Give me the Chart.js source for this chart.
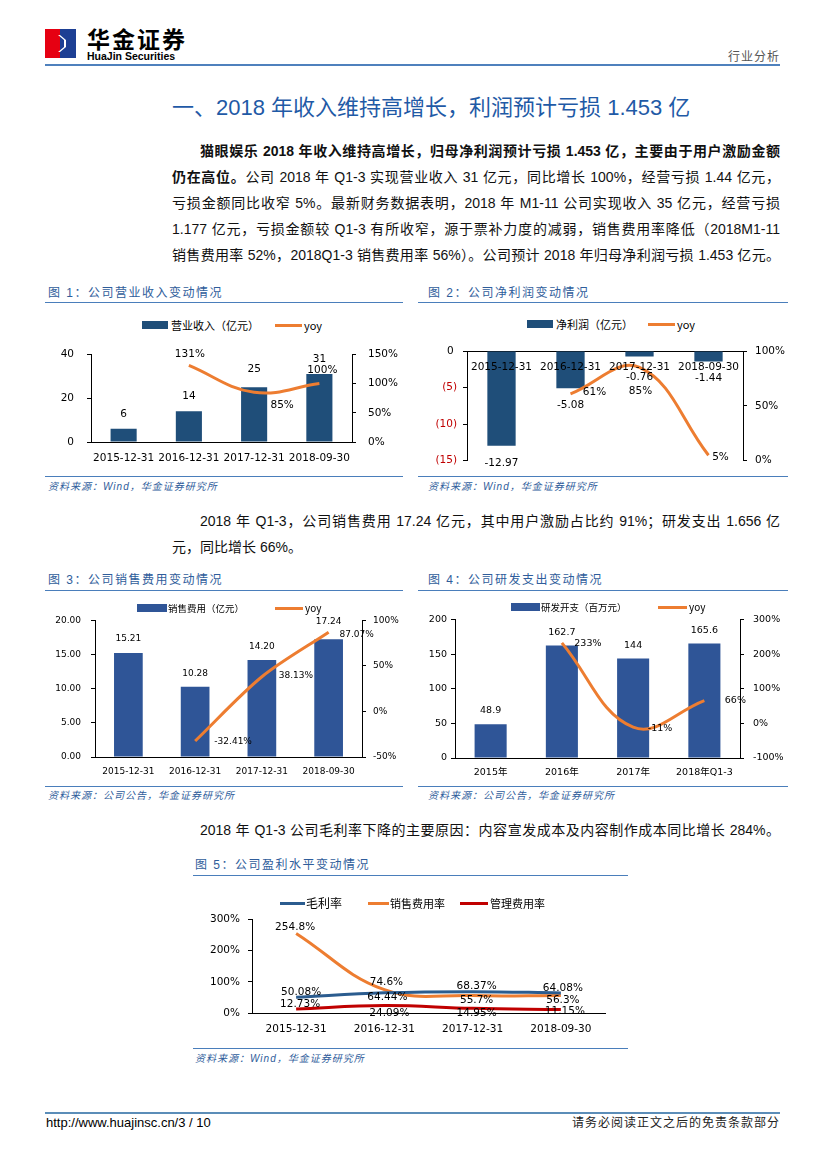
<!DOCTYPE html>
<html lang="zh-CN">
<head>
<meta charset="UTF-8">
<title>行业分析</title>
<script src="https://cdn.jsdelivr.net/npm/chart.js"></script>
<style>
  body { margin: 0; background: #fff; }
  #page { position: relative; width: 827px; height: 1169px; overflow: hidden; background: #fff;
          font-family: "Liberation Sans", "Noto Sans CJK SC", sans-serif; color: #000; }
  .rule { position: absolute; height: 1px; background: #4a7ebb; }
  .cap { position: absolute; font-size: 12px; line-height: 14px; color: #2f5d9b; letter-spacing: 1.5px; white-space: nowrap; }
  .src { position: absolute; font-size: 10px; line-height: 12px; color: #2f5d9b; font-style: italic; letter-spacing: 1px; white-space: nowrap; }
  .ln { position: absolute; font-size: 14px; line-height: 20px; text-align: justify; text-align-last: justify; color: #111; }
  .lg { position: absolute; font-size: 11px; line-height: 14px; white-space: nowrap; font-family: "Noto Sans CJK SC", "DejaVu Sans", sans-serif; }
  .sw { position: absolute; }
  canvas { position: absolute; }
</style>
</head>
<body>
<div id="page">
  <!-- header -->
  <svg style="position:absolute;left:45px;top:29px" width="31" height="29">
    <rect x="0" y="0" width="15" height="29" fill="#e60012"/>
    <rect x="15" y="0" width="16" height="29" fill="#1d3f94"/>
    <polygon points="15,6 21,11 21,18 15,23 13,23 19,18 19,11 13,6" fill="#fff"/>
  </svg>
  <div style="position:absolute;left:87px;top:26px;font-size:23px;line-height:24px;font-weight:bold;letter-spacing:2px;font-family:'Noto Sans CJK SC'">华金证券</div>
  <div style="position:absolute;left:87px;top:51px;font-size:10.5px;line-height:11px;font-weight:bold">HuaJin Securities</div>
  <div style="position:absolute;right:47px;top:49px;font-size:12px;line-height:16px;color:#555;letter-spacing:1px">行业分析</div>
  <div class="rule" style="left:45px;top:64px;width:735px;height:2px;background:#4f81bd"></div>

  <div style="position:absolute;left:172px;top:94px;font-size:22px;line-height:28px;color:#1f5aa6;white-space:nowrap">一、2018 年收入维持高增长，利润预计亏损 1.453 亿</div>

  <div class="ln" style="left:200px;top:141px;width:580px"><b>猫眼娱乐 2018 年收入维持高增长，归母净利润预计亏损 1.453 亿，主要由于用户激励金额</b></div>
  <div class="ln" style="left:172px;top:167px;width:608px"><b>仍在高位。</b>公司 2018 年 Q1-3 实现营业收入 31 亿元，同比增长 100%，经营亏损 1.44 亿元，</div>
  <div class="ln" style="left:172px;top:193px;width:608px">亏损金额同比收窄 5%。最新财务数据表明，2018 年 M1-11 公司实现收入 35 亿元，经营亏损</div>
  <div class="ln" style="left:172px;top:219px;width:608px">1.177 亿元，亏损金额较 Q1-3 有所收窄，源于票补力度的减弱，销售费用率降低（2018M1-11</div>
  <div class="ln" style="left:172px;top:245px;width:608px">销售费用率 52%，2018Q1-3 销售费用率 56%）。公司预计 2018 年归母净利润亏损 1.453 亿元。</div>

  <!-- fig 1 / fig 2 -->
  <div class="cap" style="left:48px;top:286px">图 1：公司营业收入变动情况</div>
  <div class="rule" style="left:45px;top:302px;width:358px"></div>
  <div class="rule" style="left:45px;top:476px;width:358px"></div>
  <div class="src" style="left:48px;top:481px">资料来源：Wind，华金证券研究所</div>

  <div class="cap" style="left:428px;top:286px">图 2：公司净利润变动情况</div>
  <div class="rule" style="left:418px;top:302px;width:370px"></div>
  <div class="rule" style="left:418px;top:476px;width:370px"></div>
  <div class="src" style="left:428px;top:481px">资料来源：Wind，华金证券研究所</div>

  <canvas id="c1" width="360" height="135" style="left:45px;top:335px"></canvas>
  <canvas id="c2" width="370" height="140" style="left:420px;top:335px"></canvas>

  <div class="ln" style="left:200px;top:511px;width:580px">2018 年 Q1-3，公司销售费用 17.24 亿元，其中用户激励占比约 91%；研发支出 1.656 亿</div>
  <div class="ln" style="left:172px;top:537px;text-align:left;text-align-last:left">元，同比增长 66%。</div>

  <!-- fig 3 / fig 4 -->
  <div class="cap" style="left:48px;top:573px">图 3：公司销售费用变动情况</div>
  <div class="rule" style="left:45px;top:590px;width:358px"></div>
  <div class="rule" style="left:45px;top:786px;width:358px"></div>
  <div class="src" style="left:48px;top:790px">资料来源：公司公告，华金证券研究所</div>

  <div class="cap" style="left:428px;top:573px">图 4：公司研发支出变动情况</div>
  <div class="rule" style="left:418px;top:590px;width:370px"></div>
  <div class="rule" style="left:418px;top:786px;width:370px"></div>
  <div class="src" style="left:428px;top:790px">资料来源：公司公告，华金证券研究所</div>

  <canvas id="c3" width="360" height="180" style="left:45px;top:605px"></canvas>
  <canvas id="c4" width="370" height="180" style="left:420px;top:605px"></canvas>

  <div class="ln" style="left:200px;top:820px;width:580px">2018 年 Q1-3 公司毛利率下降的主要原因：内容宣发成本及内容制作成本同比增长 284%。</div>

  <!-- fig 5 -->
  <div class="cap" style="left:195px;top:858px">图 5：公司盈利水平变动情况</div>
  <div class="rule" style="left:193px;top:875px;width:435px"></div>
  <div class="rule" style="left:193px;top:1048px;width:435px"></div>
  <div class="src" style="left:195px;top:1053px">资料来源：Wind，华金证券研究所</div>

  <canvas id="c5" width="430" height="140" style="left:195px;top:905px"></canvas>

  <!-- footer -->
  <div class="rule" style="left:45px;top:1112px;width:735px;height:2px;background:#5b8db8"></div>
  <div style="position:absolute;left:46px;top:1115px;font-size:13px;line-height:16px">http://www.huajinsc.cn/3 / 10</div>
  <div style="position:absolute;right:47px;top:1116px;font-size:12px;line-height:15px;letter-spacing:1px;color:#222">请务必阅读正文之后的免责条款部分</div>
</div>

<script>
// 图1 营业收入
var cats1 = ['2015-12-31', '2016-12-31', '2017-12-31', '2018-09-30'];
var names1 = ['营业收入（亿元）', 'yoy'];
var revenue = [6, 14, 25, 31];
var revenueYoy = [null, 131, 85, 100];

// 图2 净利润
var names2 = ['净利润（亿元）', 'yoy'];
var netProfit = [-12.97, -5.08, -0.76, -1.44];
var netProfitYoy = [null, 61, 85, 5];

// 图3 销售费用
var names3 = ['销售费用（亿元）', 'yoy'];
var salesExp = [15.21, 10.28, 14.20, 17.24];
var salesExpYoy = [null, -32.41, 38.13, 87.07];

// 图4 研发开支
var cats4 = ['2015年', '2016年', '2017年', '2018年Q1-3'];
var names4 = ['研发开支（百万元）', 'yoy'];
var rd = [48.9, 162.7, 144, 165.6];
var rdYoy = [null, 233, -11, 66];

// 图5 盈利水平
var names5 = ['毛利率', '销售费用率', '管理费用率'];
var grossMargin = [50.08, 64.44, 68.37, 64.08];
var salesRatio = [254.8, 74.6, 55.7, 56.3];
var adminRatio = [12.73, 24.09, 14.95, 11.15];

var FONT = '"DejaVu Sans", "Noto Sans CJK SC", sans-serif';
var NAVY = '#1f4e79';
var BLUE = '#2f5597';
var ORANGE = '#ed7d31';

Chart.defaults.font.family = FONT;
Chart.defaults.color = '#000';
Chart.defaults.animation = false;

// value labels next to bars / points
var valueLabels = {
  id: 'valueLabels',
  afterDatasetsDraw: function (chart) {
    var ctx = chart.ctx;
    chart.data.datasets.forEach(function (ds, di) {
      var lb = ds.lbl;
      if (!lb) return;
      var meta = chart.getDatasetMeta(di);
      ctx.save();
      ctx.font = lb.fs + 'px ' + FONT;
      ctx.fillStyle = '#000';
      ctx.textAlign = 'center';
      ctx.textBaseline = 'middle';
      meta.data.forEach(function (el, i) {
        var v = ds.data[i];
        if (v === null) return;
        ctx.fillText(lb.fmt(v), el.x + lb.dx[i], el.y + lb.dy[i]);
      });
      ctx.restore();
    });
  }
};

// category names under the zero line (图2)
var zeroCats = {
  id: 'zeroCats',
  afterDatasetsDraw: function (chart, args, opts) {
    if (!opts.show) return;
    var ctx = chart.ctx;
    var xs = chart.scales.x, ys = chart.scales.y;
    ctx.save();
    ctx.font = opts.fs + 'px ' + FONT;
    ctx.fillStyle = '#000';
    ctx.textAlign = 'center';
    ctx.textBaseline = 'middle';
    chart.data.labels.forEach(function (t, i) {
      ctx.fillText(t, xs.getPixelForValue(i), ys.getPixelForValue(0) + opts.dy);
    });
    ctx.restore();
  }
};

function yAxis(o) {
  return {
    position: o.pos, min: o.min, max: o.max,
    afterFit: function (s) { s.width = o.w; },
    grid: { display: true, drawOnChartArea: false, drawTicks: true, tickLength: 4, color: '#000' },
    border: { display: true, color: '#000' },
    ticks: { stepSize: o.step, padding: o.pad, font: { size: o.fs }, color: o.color || '#000', callback: o.fmt }
  };
}

function xAxis(o) {
  return {
    position: o.pos || 'bottom', offset: true,
    afterFit: function (s) { s.height = o.h; },
    grid: { display: false, drawTicks: false },
    border: { display: true, color: '#000' },
    ticks: { display: o.ticks !== false, padding: o.pad, font: { size: o.fs }, color: '#000', maxRotation: 0, autoSkip: false }
  };
}

function opts(padding, scales, extra) {
  return {
    responsive: false,
    animation: false,
    layout: { padding: padding },
    scales: scales,
    plugins: Object.assign({ legend: { display: false }, tooltip: { enabled: false } }, extra || {})
  };
}

function pct(v) { return v + '%'; }

function addLegend(items) {
  var page = document.getElementById('page');
  items.forEach(function (it) {
    var sw = document.createElement('div');
    sw.className = 'sw';
    var h = it.kind === 'bar' ? 8 : 3;
    sw.style.cssText = 'left:' + it.x + 'px;top:' + (it.y - h / 2) + 'px;width:' + it.w + 'px;height:' + h + 'px;background:' + it.color;
    page.appendChild(sw);
    var tx = document.createElement('div');
    tx.className = 'lg';
    tx.textContent = it.text;
    tx.style.left = it.tx + 'px';
    tx.style.top = (it.y - 7) + 'px';
    tx.style.fontSize = it.fs + 'px';
    page.appendChild(tx);
  });
}

// 图1
new Chart(document.getElementById('c1'), {
  type: 'bar',
  data: {
    labels: cats1,
    datasets: [
      { type: 'line', label: names1[1], data: revenueYoy, yAxisID: 'y1', borderColor: ORANGE, borderWidth: 3,
        pointRadius: 0, tension: 0.4, order: 0,
        lbl: { fs: 10.5, fmt: pct, dx: [0, 1, 28, 3], dy: [0, -11, 13, -13] } },
      { type: 'bar', label: names1[0], data: revenue, yAxisID: 'y', backgroundColor: NAVY,
        categoryPercentage: 1, barPercentage: 0.4, order: 1,
        lbl: { fs: 10.5, fmt: function (v) { return String(v); }, dx: [0, 0, 0, 0], dy: [-15, -15, -18, -15] } }
    ]
  },
  options: opts({ top: 17, left: 0, right: 0, bottom: 0 }, {
    x: xAxis({ h: 28, pad: 9.5, fs: 10.5 }),
    y: yAxis({ pos: 'left', min: 0, max: 40, step: 20, w: 46, pad: 13, fs: 10.5 }),
    y1: yAxis({ pos: 'right', min: 0, max: 150, step: 50, w: 53, pad: 12, fs: 10.5, fmt: pct })
  }),
  plugins: [valueLabels]
});
addLegend([
  { kind: 'bar', x: 142, y: 325, w: 26, color: NAVY, tx: 171, text: names1[0], fs: 11 },
  { kind: 'line', x: 275, y: 325, w: 27, color: ORANGE, tx: 304, text: names1[1], fs: 11 }
]);

// 图2
new Chart(document.getElementById('c2'), {
  type: 'bar',
  data: {
    labels: cats1,
    datasets: [
      { type: 'line', label: names2[1], data: netProfitYoy, yAxisID: 'y1', borderColor: ORANGE, borderWidth: 3,
        pointRadius: 0, tension: 0.4, order: 0,
        lbl: { fs: 10.5, fmt: pct, dx: [0, 24, 1, 12], dy: [0, -2, 24, 2] } },
      { type: 'bar', label: names2[0], data: netProfit, yAxisID: 'y', backgroundColor: NAVY,
        categoryPercentage: 1, barPercentage: 0.41, order: 1,
        lbl: { fs: 10.5, fmt: function (v) { return v.toFixed(2); }, dx: [0, 0, 0, 0], dy: [17, 17, 21, 17] } }
    ]
  },
  options: opts({ top: 16, left: 0, right: 0, bottom: 6 }, {
    x: xAxis({ pos: 'top', h: 0, pad: 0, fs: 10.5, ticks: false }),
    y: yAxis({ pos: 'left', min: -15, max: 0, step: 5, w: 47, pad: 6, fs: 10.5,
               color: function (c) { return c.tick && c.tick.value < 0 ? '#c00000' : '#000'; },
               fmt: function (v) { return v === 0 ? '0 ' : '(' + Math.abs(v) + ')'; } }),
    y1: yAxis({ pos: 'right', min: 0, max: 100, step: 50, w: 47, pad: 8, fs: 10.5, fmt: pct })
  }, { zeroCats: { show: true, dy: 16, fs: 10.5 } }),
  plugins: [valueLabels, zeroCats]
});
addLegend([
  { kind: 'bar', x: 527, y: 324, w: 26, color: NAVY, tx: 556, text: names2[0], fs: 11 },
  { kind: 'line', x: 648, y: 324, w: 27, color: ORANGE, tx: 677, text: names2[1], fs: 11 }
]);

// 图3
new Chart(document.getElementById('c3'), {
  type: 'bar',
  data: {
    labels: cats1,
    datasets: [
      { type: 'line', label: names3[1], data: salesExpYoy, yAxisID: 'y1', borderColor: ORANGE, borderWidth: 3,
        pointRadius: 0, tension: 0.3, order: 0,
        lbl: { fs: 9, fmt: function (v) { return v.toFixed(2) + '%'; }, dx: [0, 38, 34, 28], dy: [0, 1, -1, 2] } },
      { type: 'bar', label: names3[0], data: salesExp, yAxisID: 'y', backgroundColor: BLUE,
        categoryPercentage: 1, barPercentage: 0.43, order: 1,
        lbl: { fs: 9, fmt: function (v) { return v.toFixed(2); }, dx: [0, 0, 0, 0], dy: [-14, -13, -13, -18] } }
    ]
  },
  options: opts({ top: 14, left: 0, right: 0, bottom: 0 }, {
    x: xAxis({ h: 28, pad: 9.6, fs: 9 }),
    y: yAxis({ pos: 'left', min: 0, max: 20, step: 5, w: 50, pad: 10, fs: 9,
               fmt: function (v) { return v.toFixed(2); } }),
    y1: yAxis({ pos: 'right', min: -50, max: 100, step: 50, w: 43, pad: 7, fs: 9, fmt: pct })
  }),
  plugins: [valueLabels]
});
addLegend([
  { kind: 'bar', x: 137, y: 608, w: 30, color: BLUE, tx: 168, text: names3[0], fs: 9.5 },
  { kind: 'line', x: 275, y: 608, w: 28, color: ORANGE, tx: 305, text: names3[1], fs: 10 }
]);

// 图4
new Chart(document.getElementById('c4'), {
  type: 'bar',
  data: {
    labels: cats4,
    datasets: [
      { type: 'line', label: names4[1], data: rdYoy, yAxisID: 'y1', borderColor: ORANGE, borderWidth: 3,
        pointRadius: 0, tension: 0.4, order: 0,
        lbl: { fs: 9.5, fmt: pct, dx: [0, 26, 27, 31], dy: [0, 1, 1, 0] } },
      { type: 'bar', label: names4[0], data: rd, yAxisID: 'y', backgroundColor: BLUE,
        categoryPercentage: 1, barPercentage: 0.45, order: 1,
        lbl: { fs: 9.5, fmt: function (v) { return String(v); }, dx: [0, 0, 0, 0], dy: [-14, -13, -13, -13] } }
    ]
  },
  options: opts({ top: 13, left: 0, right: 0, bottom: 0 }, {
    x: xAxis({ h: 27, pad: 9.3, fs: 9.5 }),
    y: yAxis({ pos: 'left', min: 0, max: 200, step: 50, w: 35, pad: 4, fs: 9.5 }),
    y1: yAxis({ pos: 'right', min: -100, max: 300, step: 100, w: 50, pad: 9, fs: 9.5, fmt: pct })
  }),
  plugins: [valueLabels]
});
addLegend([
  { kind: 'bar', x: 511, y: 607, w: 29, color: BLUE, tx: 541, text: names4[0], fs: 9.5 },
  { kind: 'line', x: 658, y: 607, w: 29, color: ORANGE, tx: 689, text: names4[1], fs: 10 }
]);

// 图5
var C5 = ['#2b5c8f', ORANGE, '#c00000'];
new Chart(document.getElementById('c5'), {
  type: 'line',
  data: {
    labels: cats1,
    datasets: [
      { label: names5[0], data: grossMargin, borderColor: C5[0], borderWidth: 3, pointRadius: 0, tension: 0.4,
        lbl: { fs: 10.5, fmt: pct, dx: [5, 3, 4, 2], dy: [-5, 4, -5, -5] } },
      { label: names5[1], data: salesRatio, borderColor: C5[1], borderWidth: 3, pointRadius: 0, tension: 0.4,
        lbl: { fs: 10.5, fmt: pct, dx: [-1, 2, 4, 2], dy: [-6, -7, 5, 5] } },
      { label: names5[2], data: adminRatio, borderColor: C5[2], borderWidth: 3, pointRadius: 0, tension: 0.4,
        lbl: { fs: 10.5, fmt: pct, dx: [4, 5, 4, 4], dy: [-5, 8, 5, 2] } }
    ]
  },
  options: opts({ top: 10, left: 0, right: 20, bottom: 0 }, {
    x: xAxis({ h: 32, pad: 9.7, fs: 10.5 }),
    y: yAxis({ pos: 'left', min: 0, max: 300, step: 100, w: 57, pad: 8, fs: 10.5, fmt: pct })
  }),
  plugins: [valueLabels]
});
addLegend([
  { kind: 'line', x: 280, y: 903, w: 25, color: C5[0], tx: 306, text: names5[0], fs: 12 },
  { kind: 'line', x: 368, y: 903, w: 21, color: C5[1], tx: 390, text: names5[1], fs: 11 },
  { kind: 'line', x: 460, y: 903, w: 28, color: C5[2], tx: 490, text: names5[2], fs: 11 }
]);
</script>
</body>
</html>
